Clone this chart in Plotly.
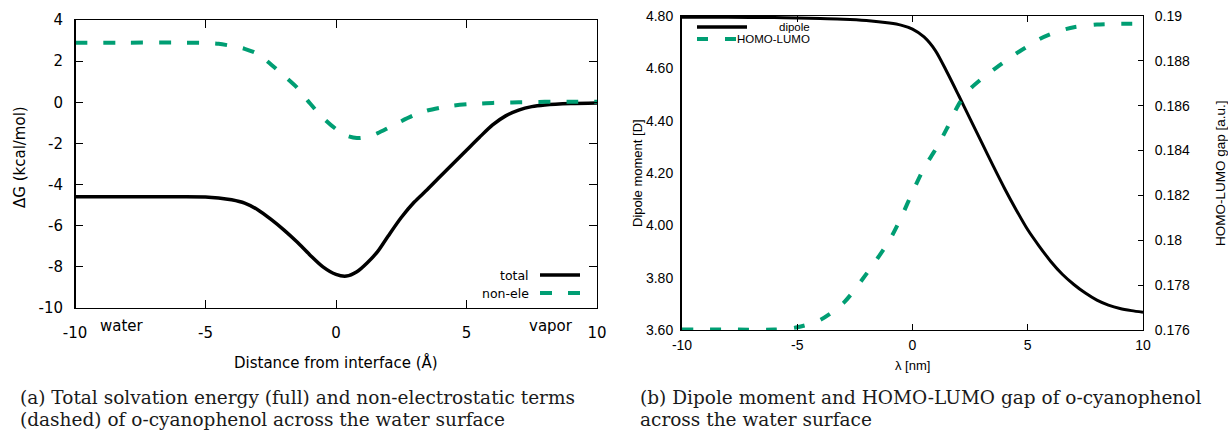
import plotly.graph_objects as go

# ---- (a) solvation free energy across the interface ----
dist = [-10, -8, -6, -5, -4.5, -4, -3.5, -3, -2.5, -2,
        -1.5, -1, -0.5, 0, 0.4, 0.8, 1.2, 1.6, 2, 2.5,
        3, 3.5, 4, 4.5, 5, 5.5, 6, 6.5, 7, 7.5,
        8, 9, 10]
dg_total = [-4.59, -4.59, -4.59, -4.6, -4.65, -4.74, -4.9, -5.22, -5.68, -6.2,
            -6.78, -7.42, -8.0, -8.37, -8.45, -8.24, -7.8, -7.25, -6.5, -5.6,
            -4.85, -4.24, -3.6, -2.96, -2.33, -1.7, -1.1, -0.66, -0.38, -0.21,
            -0.13, -0.06, -0.03]
dg_nonele = [2.9, 2.9, 2.9, 2.88, 2.84, 2.74, 2.6, 2.35, 1.85, 1.3,
             0.72, -0.05, -0.75, -1.3, -1.62, -1.74, -1.68, -1.5, -1.25, -0.92,
             -0.62, -0.4, -0.26, -0.16, -0.1, -0.06, -0.03, -0.01, 0.0, 0.01,
             0.02, 0.02, 0.02]

# ---- (b) dipole moment and HOMO-LUMO gap ----
lam = [-10, -8, -6, -5, -4, -3, -2, -1, -0.5, 0,
       0.5, 1, 1.5, 2, 2.5, 3, 3.5, 4, 4.5, 5,
       5.5, 6, 6.5, 7, 7.5, 8, 8.5, 9, 9.5, 10]
dipole = [4.795, 4.795, 4.794, 4.792, 4.79, 4.788, 4.783, 4.773, 4.765, 4.75,
          4.72, 4.667, 4.585, 4.497, 4.407, 4.317, 4.227, 4.14, 4.059, 3.983,
          3.92, 3.862, 3.813, 3.774, 3.741, 3.714, 3.695, 3.682, 3.674, 3.668]
gap = [0.17602, 0.17602, 0.17602, 0.17612, 0.17645, 0.1772, 0.1785, 0.18, 0.181, 0.18215,
       0.18322, 0.18405, 0.185, 0.18605, 0.18675, 0.1872, 0.1876, 0.18797, 0.18833, 0.18865,
       0.18897, 0.1892, 0.18937, 0.1895, 0.18957, 0.18962, 0.18964, 0.18965, 0.18965, 0.18965]

dg_ticks = [-10, -8, -6, -4, -2, 0, 2, 4]
dg_labels = ["-10", "-8", "-6", "-4", "-2", "0", "2", "4"]
dist_ticks = [-10, -5, 0, 5, 10]
dist_labels = ["-10", "-5", "0", "5", "10"]
dip_ticks = [3.6, 3.8, 4.0, 4.2, 4.4, 4.6, 4.8]
dip_labels = ["3.60", "3.80", "4.00", "4.20", "4.40", "4.60", "4.80"]
gap_ticks = [0.176, 0.178, 0.18, 0.182, 0.184, 0.186, 0.188, 0.19]
gap_labels = ["0.176", "0.178", "0.18", "0.182", "0.184", "0.186", "0.188", "0.19"]

W, H = 1228, 431
GREEN = "#009E73"
SANS_A = "DejaVu Sans"
SANS_B = "Liberation Sans"
SERIF = "DejaVu Serif"


def px(x):
    return x / W


def py(y):
    return 1 - y / H


fig = go.Figure()

fig.add_trace(go.Scatter(x=dist, y=dg_total, xaxis="x", yaxis="y", mode="lines",
                         line=dict(color="black", width=3.5, shape="spline", smoothing=0.8),
                         showlegend=False))
fig.add_trace(go.Scatter(x=dist, y=dg_nonele, xaxis="x", yaxis="y", mode="lines",
                         line=dict(color=GREEN, width=4, dash="12px,16px", shape="spline", smoothing=0.8),
                         showlegend=False))
fig.add_trace(go.Scatter(x=lam, y=dipole, xaxis="x2", yaxis="y2", mode="lines",
                         line=dict(color="black", width=3, shape="spline", smoothing=0.8),
                         showlegend=False))
fig.add_trace(go.Scatter(x=lam, y=gap, xaxis="x2", yaxis="y3", mode="lines",
                         line=dict(color=GREEN, width=4, dash="11px,17px", shape="spline", smoothing=0.8),
                         showlegend=False))

axis_common = dict(showline=True, linecolor="black", linewidth=1, showgrid=False,
                   zeroline=False, ticks="inside", tickcolor="black", automargin=False)

left_dom_x = [px(75), px(597)]
left_dom_y = [py(308), py(20)]
right_dom_x = [px(682), px(1143)]
right_dom_y = [py(330), py(16)]

fig.update_layout(
    template="none",
    width=W, height=H,
    margin=dict(l=0, r=0, t=0, b=0, pad=0, autoexpand=False),
    paper_bgcolor="white", plot_bgcolor="white",
    showlegend=False,
    xaxis=dict(domain=left_dom_x, anchor="y", range=[-10, 10], tickvals=dist_ticks,
               ticktext=dist_labels, ticklen=8, mirror="ticks",
               ticklabelstandoff=11,
               tickfont=dict(family=SANS_A, size=15, color="black"), **axis_common),
    yaxis=dict(domain=left_dom_y, anchor="x", range=[-10, 4], tickvals=dg_ticks,
               ticktext=dg_labels, ticklen=8, mirror="ticks", ticklabelstandoff=8,
               tickfont=dict(family=SANS_A, size=15, color="black"), **axis_common),
    xaxis2=dict(domain=right_dom_x, anchor="y2", range=[-10, 10], tickvals=dist_ticks,
                ticktext=dist_labels, ticklen=6, mirror="ticks",
                ticklabelstandoff=2,
                tickfont=dict(family=SANS_B, size=14, color="black"), **axis_common),
    yaxis2=dict(domain=right_dom_y, anchor="x2", range=[3.6, 4.8], tickvals=dip_ticks,
                ticktext=dip_labels, showline=True, linecolor="black", linewidth=2,
                showgrid=False, zeroline=False, ticks="", ticklabelstandoff=4,
                automargin=False,
                tickfont=dict(family=SANS_B, size=14, color="black")),
    yaxis3=dict(domain=right_dom_y, anchor="x2", overlaying="y2", side="right",
                range=[0.176, 0.19], tickvals=gap_ticks, ticktext=gap_labels,
                ticklen=5, ticklabelstandoff=8,
                tickfont=dict(family=SANS_B, size=14, color="black"), **axis_common),
)

# thicker left border of the energy frame
fig.add_shape(type="line", xref="x domain", yref="y domain", x0=0, x1=0, y0=0, y1=1,
              line=dict(color="black", width=2))

annos = []


def text(x, y, s, size, family, xanchor="center", angle=0, color="black"):
    annos.append(dict(x=px(x), y=py(y), xref="paper", yref="paper", text=s,
                      showarrow=False, xanchor=xanchor, yanchor="middle",
                      textangle=angle, font=dict(family=family, size=size, color=color)))


# (a) labels
text(20, 157, "ΔG (kcal/mol)", 15, SANS_A, angle=-90)
text(336, 362, "Distance from interface (Å)", 15, SANS_A)
text(122, 326, "water", 15, SANS_A)
text(551, 326, "vapor", 15, SANS_A)
text(531, 275, "total", 12.5, SANS_A, xanchor="right")
text(531, 293, "non-ele", 12.5, SANS_A, xanchor="right")

# (b) labels
text(637, 173, "Dipole moment [D]", 13, SANS_B, angle=-90)
text(1220, 173, "HOMO-LUMO gap [a.u.]", 13.5, SANS_B, angle=-90)
text(912, 365, "λ [nm]", 13, SANS_B)
text(812, 27, "dipole", 11.5, SANS_B, xanchor="right")
text(812, 39, "HOMO-LUMO", 11.5, SANS_B, xanchor="right")

# captions
CAP = 18.5
text(18, 397, "(a) Total solvation energy (full) and non-electrostatic terms", CAP, SERIF,
     xanchor="left", color="#1a1a1a")
text(18, 419, "(dashed) of o-cyanophenol across the water surface", CAP, SERIF,
     xanchor="left", color="#1a1a1a")
text(638, 397, "(b) Dipole moment and HOMO-LUMO gap of o-cyanophenol", CAP, SERIF,
     xanchor="left", color="#1a1a1a")
text(638, 419, "across the water surface", CAP, SERIF, xanchor="left", color="#1a1a1a")

fig.update_layout(annotations=annos)

# legend keys
fig.add_shape(type="line", xref="paper", yref="paper", x0=px(540), x1=px(580),
              y0=py(275), y1=py(275), line=dict(color="black", width=3.5))
fig.add_shape(type="line", xref="paper", yref="paper", x0=px(540), x1=px(580),
              y0=py(293), y1=py(293), line=dict(color=GREEN, width=4, dash="12px,16px"))
fig.add_shape(type="line", xref="paper", yref="paper", x0=px(697), x1=px(747),
              y0=py(27), y1=py(27), line=dict(color="black", width=3.5))
fig.add_shape(type="line", xref="paper", yref="paper", x0=px(697), x1=px(736),
              y0=py(39), y1=py(39), line=dict(color=GREEN, width=4, dash="11px,17px"))

fig.write_html("out.html")
